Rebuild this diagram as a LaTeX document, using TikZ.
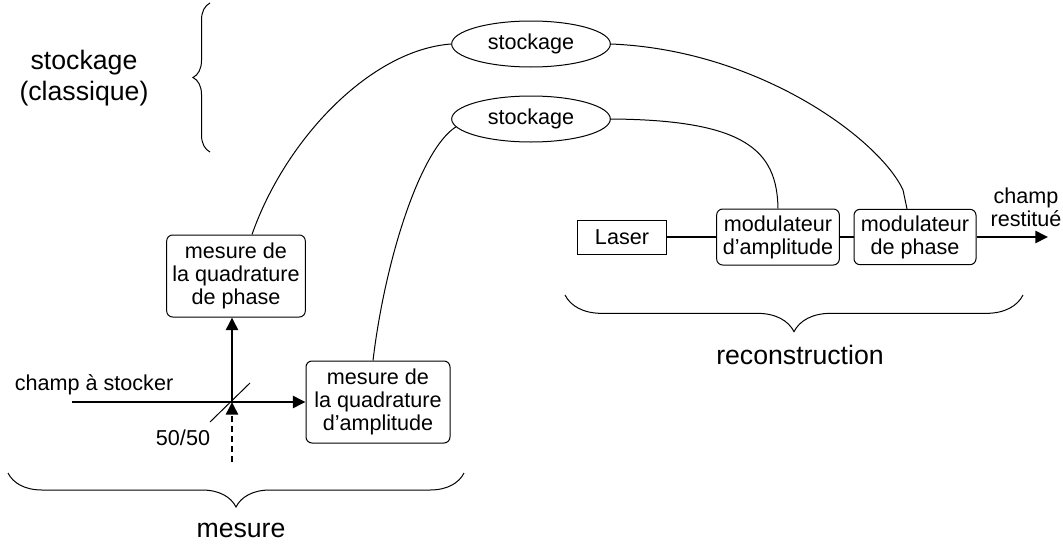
\documentclass[tikz,border=0pt]{standalone}
\usepackage{fontspec}
\setmainfont{Liberation Sans}
\usetikzlibrary{arrows.meta,shapes.geometric,decorations.pathreplacing,calc}
\newcommand\nfs{\fontsize{16.2}{17.3}\selectfont}
\newcommand\lfs{\fontsize{20}{23}\selectfont}
\begin{document}
\begin{tikzpicture}[x=0.75pt,y=-0.75pt,
  thinline/.style={line width=0.75pt},
  beam/.style={line width=1.9pt},
  tip/.style={-{Triangle[length=9.5pt,width=9pt]}},
  rbox/.style={draw, line width=0.75pt, rounded corners=4.5pt, align=center, inner sep=0pt, font=\nfs},
  sbox/.style={draw, line width=0.75pt, align=center, inner sep=0pt, font=\nfs},
  store/.style={draw, ellipse, line width=0.75pt, inner sep=0pt, minimum width=119pt, minimum height=34.5pt, font=\nfs},
  lbl/.style={align=center, inner sep=0pt, font=\nfs},
  big/.style={align=center, inner sep=0pt, font=\lfs},
  bracestyle/.style={draw, line width=0.75pt, decorate, decoration={brace, amplitude=#1}}
]
\path[use as bounding box] (0,0) rectangle (1063,546);

% storage ellipses
\node[store] (s1) at (531,44) {stockage};
\node[store] (s2) at (531,119) {stockage};

% measurement boxes
\node[rbox, minimum width=104pt, minimum height=61.5pt] (phmeas) at (236,276) {mesure de\\la quadrature\\de phase};
\node[rbox, minimum width=108pt, minimum height=61.5pt] (ammeas) at (378,402) {mesure de\\la quadrature\\d'amplitude};

% reconstruction boxes
\node[sbox, minimum width=67pt, minimum height=25.5pt] (laser) at (622,237) {Laser};
\node[rbox, minimum width=92pt, minimum height=42pt] (ammod) at (778,237) {modulateur\\d'amplitude};
\node[rbox, minimum width=91.5pt, minimum height=41.5pt] (phmod) at (915,237) {modulateur\\de phase};

% beam splitter
\coordinate (bs) at (232,402);
\coordinate (in) at (72,402);
\coordinate (vac) at (232,462);
\coordinate (bsa) at (210,422);
\coordinate (bsb) at (250,383);
\coordinate (out) at (1048,237);

\draw[beam] (in) -- (bs);
\draw[beam, tip] (bs) -- (ammeas.west);
\draw[beam, tip] (bs) -- (bs |- phmeas.south);
\draw[beam, tip, dash pattern=on 4.5pt off 3pt] (vac) -- (bs);
\draw[thinline] (bsa) -- (bsb);

\draw[beam] (laser.east) -- (ammod.west);
\draw[beam] (ammod.east) -- (phmod.west);
\draw[beam, tip] (phmod.east) -- (out);

% classical links
\draw[thinline] (s1.west) .. controls (370,50) and (285,140) .. ($(phmeas.north)+(16,0)$);
\draw[thinline] (s2.186) .. controls (420,150) and (385,260) .. ($(ammeas.north)+(-5,0)$);
\draw[thinline] (s2.east) .. controls (745,120) and (777,150) .. (ammod.north);
\draw[thinline] (s1.east) .. controls (760,50) and (880,140) .. (903,190) -- ($(phmod.north)+(-8,0)$);

% labels
\node[lbl] (lin) at (94,385) {champ à stocker};
\node[lbl] (l50) at (183,438) {50/50};
\node[lbl] (lout) at (1026,207) {champ\\restitué};

% braces
\draw[bracestyle=12.75pt] (210,152) -- (210,3);
\node[big] (lstock) at (84,78) {stockage\\(classique)};
\draw[bracestyle=25.5pt] (464,473) -- (8,473);
\node[big] (lmes) at (241,530) {mesure};
\draw[bracestyle=27.5pt] (1023,295) -- (565,295);
\node[big] (lrec) at (800,355) {reconstruction};
\end{tikzpicture}
\end{document}
